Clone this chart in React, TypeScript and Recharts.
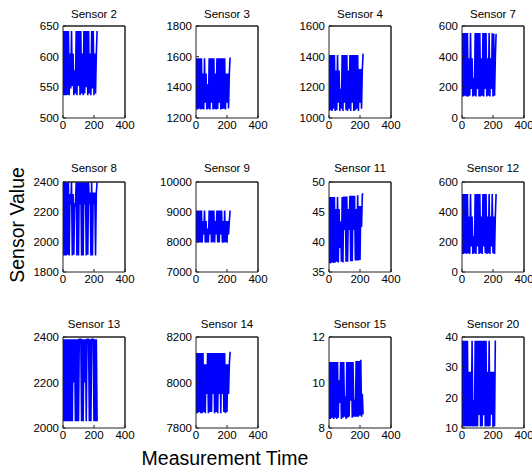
import React from 'react';
import { LineChart, Line, XAxis, YAxis, ReferenceLine } from 'recharts';

const times = [0, 5, 10, 15, 20, 25, 30, 35, 40, 45, 50, 55, 60, 65, 70, 75, 80, 85, 90, 95, 100, 105, 110, 115, 120, 125, 130, 135, 140, 145, 150, 155, 160, 165, 170, 175, 180, 185, 190, 195, 200, 205, 210, 215, 220];
const xTicks = [0, 200, 400];

const sensor2 = [537, 642, 537, 642, 537, 642, 538, 642, 537, 605, 548, 642, 552, 605, 537, 578, 540, 642, 537, 642, 552, 642, 537, 642, 540, 605, 537, 642, 540, 642, 550, 642, 537, 642, 540, 605, 537, 642, 548, 642, 537, 605, 540, 605, 642];
const sensor3 = [1255, 1590, 1255, 1590, 1260, 1590, 1255, 1590, 1258, 1490, 1255, 1590, 1300, 1490, 1255, 1420, 1260, 1590, 1255, 1590, 1300, 1590, 1255, 1590, 1258, 1490, 1255, 1590, 1258, 1590, 1300, 1590, 1255, 1590, 1258, 1590, 1260, 1590, 1255, 1490, 1300, 1490, 1262, 1490, 1595];
const sensor4 = [1045, 1410, 1050, 1410, 1045, 1410, 1060, 1410, 1045, 1310, 1050, 1410, 1100, 1310, 1045, 1190, 1060, 1410, 1045, 1410, 1100, 1410, 1050, 1410, 1045, 1310, 1060, 1410, 1045, 1410, 1100, 1410, 1045, 1410, 1050, 1410, 1060, 1410, 1045, 1320, 1100, 1320, 1060, 1320, 1420];
const sensor7 = [140, 555, 140, 555, 145, 555, 140, 555, 140, 390, 145, 555, 190, 390, 140, 260, 145, 555, 140, 555, 190, 555, 140, 555, 140, 390, 145, 555, 140, 555, 190, 555, 140, 390, 145, 555, 140, 390, 190, 555, 140, 550, 145, 390, 550];
const sensor8 = [1910, 2398, 1910, 2398, 1910, 2398, 1915, 2398, 1910, 2320, 2250, 2398, 1910, 2320, 1915, 2260, 2250, 2398, 1910, 2398, 1910, 2398, 2250, 2398, 1910, 2398, 1910, 2398, 2250, 2398, 1910, 2398, 1915, 2398, 2250, 2330, 1910, 2398, 1910, 2330, 2250, 2330, 1910, 2330, 2398];
const sensor9 = [7980, 9050, 7980, 9050, 7985, 9050, 7980, 9050, 7980, 8700, 8250, 9050, 7980, 8700, 7985, 8450, 7980, 9050, 8250, 9050, 7980, 9050, 7990, 9050, 7980, 8700, 8250, 9050, 7980, 9050, 7985, 9050, 8250, 9050, 7980, 8700, 7980, 9050, 7990, 8700, 7980, 8700, 8250, 8700, 9050];
const sensor11 = [36.5, 47.5, 36.4, 47.5, 36.6, 47.5, 36.5, 47.5, 36.6, 45.5, 36.7, 47.5, 36.6, 45.5, 39, 43.4, 36.7, 47.5, 36.6, 47.6, 42, 47.6, 36.7, 47.6, 36.7, 45.5, 42, 47.7, 36.8, 47.7, 36.8, 47.7, 42, 47.7, 36.9, 45.5, 36.9, 47.8, 36.9, 46, 37, 46, 42.5, 47.9, 48.1];
const sensor12 = [120, 520, 120, 520, 125, 520, 120, 520, 125, 370, 120, 520, 170, 370, 120, 240, 125, 520, 120, 520, 170, 520, 120, 520, 125, 370, 120, 520, 170, 520, 125, 520, 120, 370, 125, 520, 120, 370, 170, 520, 125, 370, 120, 370, 520];
const sensor13 = [2030, 2390, 2030, 2390, 2030, 2390, 2030, 2390, 2030, 2390, 2030, 2390, 2030, 2390, 2200, 2390, 2030, 2390, 2030, 2390, 2030, 2390, 2390, 2390, 2030, 2390, 2030, 2390, 2200, 2390, 2030, 2390, 2390, 2390, 2030, 2390, 2030, 2390, 2390, 2390, 2030, 2390, 2030, 2390, 2030];
const sensor14 = [7865, 8130, 7865, 8130, 7870, 8130, 7865, 8130, 7865, 8130, 7870, 8080, 7865, 8080, 7950, 8130, 7865, 8130, 7870, 8130, 7870, 8130, 7950, 8130, 7865, 8130, 7870, 8130, 7865, 8130, 7950, 8130, 7865, 8130, 7950, 8130, 7870, 8130, 7865, 8080, 7870, 8080, 7950, 8080, 8135];
const sensor15 = [8.4, 10.9, 8.4, 10.9, 8.45, 10.9, 8.4, 10.9, 8.45, 10.9, 8.4, 10.9, 8.45, 10.1, 9.1, 10.9, 8.4, 10.9, 8.45, 10.9, 8.5, 9.4, 8.4, 10.9, 8.45, 10.9, 8.5, 10.9, 9.2, 10.9, 8.45, 10.9, 8.5, 9.25, 8.5, 10.95, 8.5, 10.95, 8.5, 10.95, 8.55, 11.0, 8.5, 9.5, 8.6];
const sensor20 = [10.5, 38.8, 10.5, 38.8, 10.6, 38.8, 10.5, 38.8, 10.6, 28.5, 10.5, 28.5, 10.6, 38.8, 10.5, 19.2, 10.6, 38.8, 10.5, 38.8, 10.6, 38.8, 14.3, 38.8, 10.5, 38.8, 10.6, 38.8, 14.2, 38.8, 10.5, 38.8, 10.6, 28.5, 10.5, 38.8, 10.6, 28.5, 14.4, 28.5, 10.5, 28.5, 10.6, 38.6, 38.6];

const titles = ['Sensor 2', 'Sensor 3', 'Sensor 4', 'Sensor 7', 'Sensor 8', 'Sensor 9', 'Sensor 11', 'Sensor 12', 'Sensor 13', 'Sensor 14', 'Sensor 15', 'Sensor 20'];
const seriesList = [sensor2, sensor3, sensor4, sensor7, sensor8, sensor9, sensor11, sensor12, sensor13, sensor14, sensor15, sensor20];
const yTickList = [
  [500, 550, 600, 650],
  [1200, 1400, 1600, 1800],
  [1000, 1200, 1400, 1600],
  [0, 200, 400, 600],
  [1800, 2000, 2200, 2400],
  [7000, 8000, 9000, 10000],
  [35, 40, 45, 50],
  [0, 200, 400, 600],
  [2000, 2200, 2400],
  [7800, 8000, 8200],
  [8, 10, 12],
  [10, 20, 30, 40],
];

const FONT = "'Liberation Sans', Arial, Helvetica, sans-serif";
const colLefts = [63, 196, 329, 462];
const plotW = 62;
const rowTops = [26, 182, 337];
const rowHeights = [92, 90, 91];
const titleBaselines = [18, 172, 328];
const AXIS = '#222';
const BLUE = '#0000ff';

function SmallPlot({ idx }: { idx: number }) {
  const row = Math.floor(idx / 4);
  const col = idx % 4;
  const ph = rowHeights[row];
  const ticks = yTickList[idx];
  const dom: [number, number] = [ticks[0], ticks[ticks.length - 1]];
  const data = times.map((t, i) => ({ t, v: seriesList[idx][i] }));
  const padL = 45, padT = 10, padR = 20, padB = 25;
  const tickStyle = { fontSize: 11.5, fill: '#000', fontFamily: FONT };
  return (
    <div style={{ position: 'absolute', left: colLefts[col] - padL, top: rowTops[row] - padT }}>
      <LineChart width={padL + plotW + padR} height={padT + ph + padB} data={data}
        margin={{ top: padT - 1, right: padR - 1, left: 0, bottom: 0 }}>
        <XAxis dataKey="t" type="number" domain={[0, 400]} ticks={xTicks} interval={0}
          height={padB} stroke={AXIS} tickSize={-3} tickMargin={6} tick={tickStyle} allowDataOverflow />
        <XAxis xAxisId="top" orientation="top" dataKey="t" type="number" domain={[0, 400]} ticks={xTicks} interval={0}
          height={1} stroke={AXIS} tickSize={-3} tick={false} allowDataOverflow />
        <YAxis type="number" domain={dom} ticks={ticks} interval={0} width={padL} stroke={AXIS}
          tickSize={-3} tickMargin={7} tick={tickStyle} allowDataOverflow />
        <YAxis yAxisId="r" orientation="right" type="number" domain={dom} ticks={ticks} interval={0}
          width={1} stroke={AXIS} tickSize={-3} tick={false} allowDataOverflow />
        <ReferenceLine y={dom[1]} stroke={AXIS} strokeWidth={1} ifOverflow="visible" />
        <ReferenceLine x={400} stroke={AXIS} strokeWidth={1} ifOverflow="visible" />
        <Line xAxisId="top" yAxisId="r" dataKey="v" stroke="none" strokeWidth={0} dot={false} activeDot={false} isAnimationActive={false} />
        <Line dataKey="v" stroke={BLUE} strokeWidth={1.6} dot={false} isAnimationActive={false} />
      </LineChart>
    </div>
  );
}

export default function App() {
  return (
    <div style={{ position: 'absolute', left: 0, top: 0, width: 532, height: 470, overflow: 'hidden', background: '#fff' }}>
      {titles.map((_, i) => <SmallPlot key={i} idx={i} />)}
      <svg width={532} height={470} style={{ position: 'absolute', left: 0, top: 0, pointerEvents: 'none' }}>
        {titles.map((t, i) => (
          <text key={t} x={colLefts[i % 4] + plotW / 2} y={titleBaselines[Math.floor(i / 4)]}
            textAnchor="middle" fontSize={11.5} fontFamily={FONT} fill="#000">{t}</text>
        ))}
        <text x={225} y={465} textAnchor="middle" fontSize={19.5} fontFamily={FONT} fill="#000">Measurement Time</text>
        <text transform="translate(24,225) rotate(-90)" x={0} y={0} textAnchor="middle" fontSize={19.5} fontFamily={FONT} fill="#000">Sensor Value</text>
      </svg>
    </div>
  );
}
